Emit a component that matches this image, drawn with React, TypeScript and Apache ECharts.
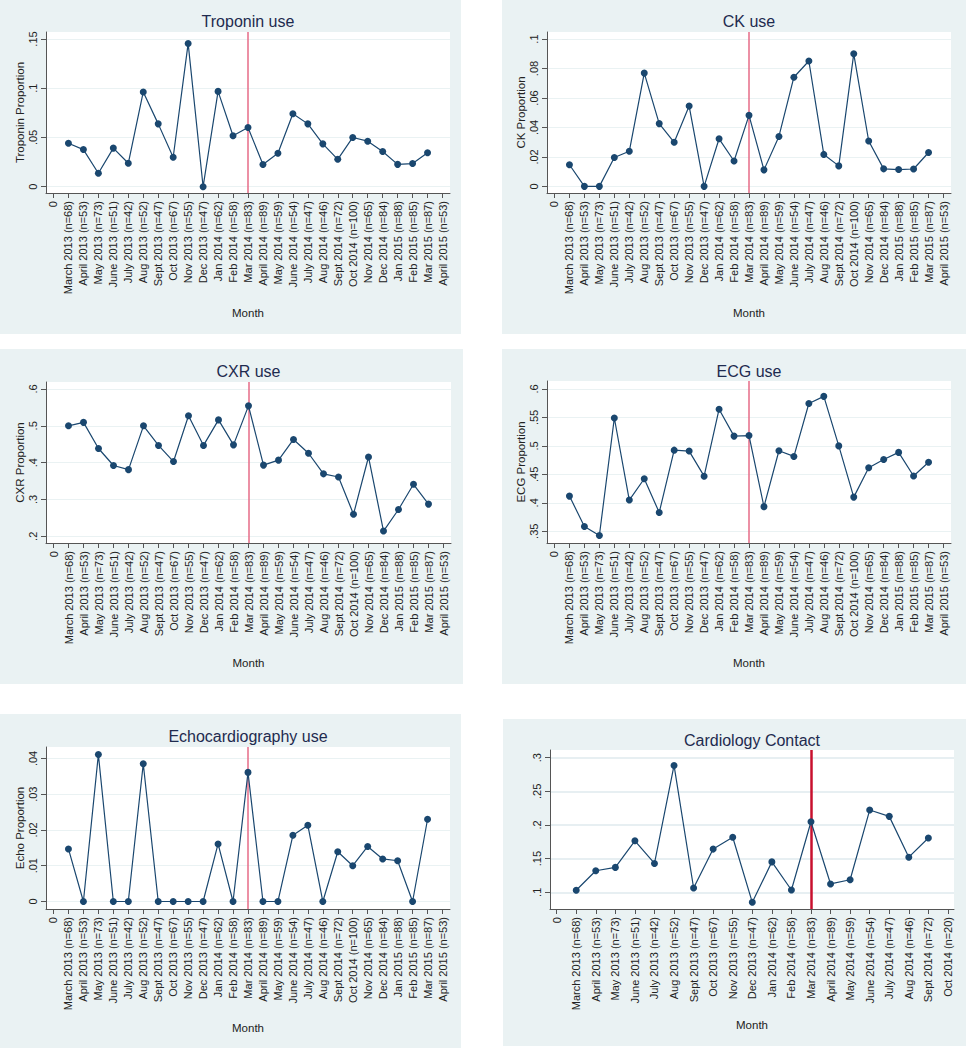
import React, { useEffect, useRef } from "react";
import * as echarts from "echarts";

// ---------- Data ----------
const monthLabels: string[] = [
  "0",
  "March 2013 (n=68)", "April 2013 (n=53)", "May 2013 (n=73)", "June 2013 (n=51)",
  "July 2013 (n=42)", "Aug 2013 (n=52)", "Sept 2013 (n=47)", "Oct 2013 (n=67)",
  "Nov 2013 (n=55)", "Dec 2013 (n=47)", "Jan 2014 (n=62)", "Feb 2014 (n=58)",
  "Mar 2014 (n=83)", "April 2014 (n=89)", "May 2014 (n=59)", "June 2014 (n=54)",
  "July 2014 (n=47)", "Aug 2014 (n=46)", "Sept 2014 (n=72)", "Oct 2014 (n=100)",
  "Nov 2014 (n=65)", "Dec 2014 (n=84)", "Jan 2015 (n=88)", "Feb 2015 (n=85)",
  "Mar 2015 (n=87)", "April 2015 (n=53)",
];

const cardioMonthLabels: string[] = [
  "0",
  "March 2013 (n=68)", "April 2013 (n=53)", "May 2013 (n=73)", "June 2013 (n=51)",
  "July 2013 (n=42)", "Aug 2013 (n=52)", "Sept 2013 (n=47)", "Oct 2013 (n=67)",
  "Nov 2013 (n=55)", "Dec 2013 (n=47)", "Jan 2014 (n=62)", "Feb 2014 (n=58)",
  "Mar 2014 (n=83)", "April 2014 (n=89)", "May 2014 (n=59)", "June 2014 (n=54)",
  "July 2014 (n=47)", "Aug 2014 (n=46)", "Sept 2014 (n=72)", "Oct 2014 (n=20)",
];

const troponin: number[] = [
  0.0441, 0.0377, 0.0137, 0.0392, 0.0238, 0.0962, 0.0638, 0.0299, 0.1455, 0.0,
  0.0968, 0.0517, 0.0602, 0.0225, 0.0339, 0.0741, 0.0638, 0.0435, 0.0278, 0.05,
  0.0462, 0.0357, 0.0227, 0.0235, 0.0345,
];

const ck: number[] = [
  0.0147, 0.0, 0.0, 0.0196, 0.0238, 0.0769, 0.0426, 0.0299, 0.0545, 0.0,
  0.0323, 0.0172, 0.0482, 0.0112, 0.0339, 0.0741, 0.0851, 0.0217, 0.0139, 0.09,
  0.0308, 0.0119, 0.0114, 0.0118, 0.023,
];

const cxr: number[] = [
  0.5, 0.5094, 0.4384, 0.3922, 0.381, 0.5, 0.4468, 0.403, 0.5273, 0.4468,
  0.5161, 0.4483, 0.5542, 0.3933, 0.4068, 0.463, 0.4255, 0.3696, 0.3611, 0.26,
  0.4154, 0.2143, 0.2727, 0.3412, 0.2874,
];

const ecg: number[] = [
  0.4118, 0.3585, 0.3425, 0.549, 0.4048, 0.4423, 0.383, 0.4925, 0.4909, 0.4468,
  0.5645, 0.5172, 0.5181, 0.3933, 0.4915, 0.4815, 0.5745, 0.587, 0.5, 0.41,
  0.4615, 0.4762, 0.4886, 0.4471, 0.4713,
];

const echo: number[] = [
  0.0147, 0.0, 0.0411, 0.0, 0.0, 0.0385, 0.0, 0.0, 0.0, 0.0,
  0.0161, 0.0, 0.0361, 0.0, 0.0, 0.0185, 0.0213, 0.0, 0.0139, 0.01,
  0.0154, 0.0119, 0.0114, 0.0, 0.023,
];

const cardiology: number[] = [
  0.103, 0.132, 0.137, 0.1765, 0.1429, 0.2885, 0.1064, 0.1642, 0.1818, 0.0851,
  0.1452, 0.1034, 0.2048, 0.1124, 0.1186, 0.2222, 0.2128, 0.1522, 0.1806,
];

const troponinTicks = [0, 0.05, 0.1, 0.15];
const ckTicks = [0, 0.02, 0.04, 0.06, 0.08, 0.1];
const cxrTicks = [0.2, 0.3, 0.4, 0.5, 0.6];
const ecgTicks = [0.35, 0.4, 0.45, 0.5, 0.55, 0.6];
const echoTicks = [0, 0.01, 0.02, 0.03, 0.04];
const cardiologyTicks = [0.1, 0.15, 0.2, 0.25, 0.3];

const interventionMonth = 13; // Mar 2014

// ---------- Styling / layout ----------
const FONT = "'Liberation Sans', Arial, Helvetica, sans-serif";
const PANEL_BG = "#eaf2f3";
const NAVY = "#1a476f";
const TITLE_COLOR = "#1e2b4f";

type Panel = {
  title: string;
  yName: string;
  values: number[];
  labels: string[];
  yTicks: number[];
  yMin: number;
  yMax: number;
  xMin: number;
  xMax: number;
  bg: [number, number, number, number];
  grid: [number, number, number, number]; // left, top, width, height
  titlePos: [number, number];
  monthGap: number;
  redColor: string;
  redWidth: number;
  splitColor: string;
  splitWidth: number;
};

const panels: Panel[] = [
  {
    title: "Troponin use", yName: "Troponin Proportion", values: troponin, labels: monthLabels,
    yTicks: troponinTicks, yMin: -0.0064, yMax: 0.1571, xMin: -0.5, xMax: 26.5,
    bg: [0, 0, 461, 334], grid: [46, 32, 404, 161], titlePos: [248, 21], monthGap: 114,
    redColor: "#e66b87", redWidth: 1.5, splitColor: "#eaf2f3", splitWidth: 1,
  },
  {
    title: "CK use", yName: "CK Proportion", values: ck, labels: monthLabels,
    yTicks: ckTicks, yMin: -0.0045, yMax: 0.1048, xMin: -0.5, xMax: 26.5,
    bg: [502, 0, 464, 334], grid: [547, 32, 404, 161], titlePos: [749, 21], monthGap: 114,
    redColor: "#e66b87", redWidth: 1.5, splitColor: "#eaf2f3", splitWidth: 1,
  },
  {
    title: "CXR use", yName: "CXR Proportion", values: cxr, labels: monthLabels,
    yTicks: cxrTicks, yMin: 0.1818, yMax: 0.619, xMin: -0.5, xMax: 26.5,
    bg: [0, 349, 463, 335], grid: [46, 382, 405, 161], titlePos: [248.5, 371], monthGap: 114,
    redColor: "#e66b87", redWidth: 1.5, splitColor: "#eaf2f3", splitWidth: 1,
  },
  {
    title: "ECG use", yName: "ECG Proportion", values: ecg, labels: monthLabels,
    yTicks: ecgTicks, yMin: 0.3294, yMax: 0.614, xMin: -0.5, xMax: 26.5,
    bg: [502, 349, 464, 335], grid: [547, 381, 404, 162], titlePos: [749, 371], monthGap: 114,
    redColor: "#e66b87", redWidth: 1.5, splitColor: "#eaf2f3", splitWidth: 1,
  },
  {
    title: "Echocardiography use", yName: "Echo Proportion", values: echo, labels: monthLabels,
    yTicks: echoTicks, yMin: -0.0021, yMax: 0.0432, xMin: -0.5, xMax: 26.5,
    bg: [0, 714, 461, 334], grid: [46, 747, 404, 162], titlePos: [248, 736], monthGap: 113,
    redColor: "#e66b87", redWidth: 1.5, splitColor: "#eaf2f3", splitWidth: 1,
  },
  {
    title: "Cardiology Contact", yName: "", values: cardiology, labels: cardioMonthLabels,
    yTicks: cardiologyTicks, yMin: 0.0752, yMax: 0.3114, xMin: -0.34, xMax: 20.31,
    bg: [503, 719, 463, 327], grid: [550, 750, 404, 159], titlePos: [752, 740], monthGap: 110,
    redColor: "#c8102e", redWidth: 2.5, splitColor: "#dfeaee", splitWidth: 1.5,
  },
];

function fmtY(v: number): string {
  if (Math.abs(v) < 1e-12) return "0";
  const s = String(+Number(v).toFixed(4));
  return s.replace(/^0\./, ".");
}

function buildOption() {
  const grid: any[] = [];
  const xAxis: any[] = [];
  const yAxis: any[] = [];
  const series: any[] = [];
  const graphic: any[] = [];

  panels.forEach((p, i) => {
    graphic.push({
      type: "rect",
      z: -10,
      shape: { x: p.bg[0], y: p.bg[1], width: p.bg[2], height: p.bg[3] },
      style: { fill: PANEL_BG },
      silent: true,
    });
    graphic.push({
      type: "text",
      x: p.titlePos[0],
      y: p.titlePos[1],
      style: {
        text: p.title,
        fontSize: 16,
        fontFamily: FONT,
        fill: TITLE_COLOR,
        align: "center",
        verticalAlign: "middle",
      },
      silent: true,
    });

    grid.push({
      left: p.grid[0],
      top: p.grid[1],
      width: p.grid[2],
      height: p.grid[3],
      show: true,
      backgroundColor: "#ffffff",
      borderWidth: 0,
      containLabel: false,
    });

    const xTicks = p.labels.map((_, k) => k);
    const labels = p.labels;
    xAxis.push({
      type: "value",
      gridIndex: i,
      min: p.xMin,
      max: p.xMax,
      name: "Month",
      nameLocation: "middle",
      nameGap: p.monthGap,
      nameTextStyle: { fontSize: 11.5, fontFamily: FONT, color: "#222" },
      axisLine: { show: true, onZero: false, lineStyle: { color: "#555", width: 1 } },
      axisTick: { show: true, length: 5, customValues: xTicks, lineStyle: { color: "#555" } },
      axisLabel: {
        customValues: xTicks,
        rotate: 90,
        margin: 8,
        fontSize: 11,
        fontFamily: FONT,
        color: "#222",
        formatter: (v: number) => labels[Math.round(v)] ?? "",
      },
      splitLine: { show: false },
    });

    yAxis.push({
      type: "value",
      gridIndex: i,
      min: p.yMin,
      max: p.yMax,
      name: p.yName,
      nameLocation: "middle",
      nameGap: 20,
      nameTextStyle: { fontSize: 11.5, fontFamily: FONT, color: "#222" },
      axisLine: { show: true, onZero: false, lineStyle: { color: "#555", width: 1 } },
      axisTick: { show: true, length: 5, customValues: p.yTicks, lineStyle: { color: "#555" } },
      axisLabel: {
        customValues: p.yTicks,
        rotate: 90,
        margin: 8,
        fontSize: 11,
        fontFamily: FONT,
        color: "#222",
        formatter: (v: number) => fmtY(v),
      },
      splitLine: { show: true, lineStyle: { color: p.splitColor, width: p.splitWidth } },
    });

    series.push({
      type: "line",
      xAxisIndex: i,
      yAxisIndex: i,
      data: p.values.map((v, k) => [k + 1, v]),
      symbol: "circle",
      symbolSize: 7,
      showSymbol: true,
      itemStyle: { color: NAVY },
      lineStyle: { color: NAVY, width: 1.2 },
      z: 3,
      markLine: {
        silent: true,
        symbol: ["none", "none"],
        label: { show: false },
        lineStyle: { color: p.redColor, width: p.redWidth, type: "solid" },
        data: [{ xAxis: interventionMonth }],
        z: 2,
      },
    });
  });

  return {
    animation: false,
    backgroundColor: "#ffffff",
    textStyle: { fontFamily: FONT },
    graphic,
    grid,
    xAxis,
    yAxis,
    series,
  };
}

export default function App() {
  const ref = useRef<HTMLDivElement>(null);

  useEffect(() => {
    if (!ref.current) return;
    const chart = echarts.init(ref.current, undefined, { renderer: "svg" });
    chart.setOption(buildOption() as any);
    return () => {
      chart.dispose();
    };
  }, []);

  return (
    <div
      ref={ref}
      style={{ position: "absolute", left: 0, top: 0, width: 966, height: 1050 }}
    />
  );
}
